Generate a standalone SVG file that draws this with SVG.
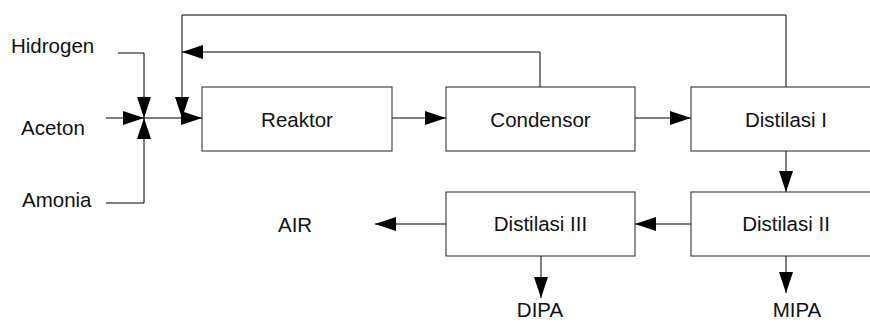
<svg xmlns="http://www.w3.org/2000/svg" width="870" height="322" viewBox="0 0 870 322">
<style>
.box{fill:#fff;stroke:#222;stroke-width:1}
.c{fill:none;stroke:#000;stroke-width:1}
text{font-family:"Liberation Sans",Arial,sans-serif;font-size:20.5px;fill:#111}
.m{text-anchor:middle}
</style>
<defs>
<marker id="ah" markerUnits="userSpaceOnUse" markerWidth="22" markerHeight="14" refX="21" refY="7" orient="auto">
<path d="M0,0 L21,7 L0,14 z" fill="#000"/>
</marker>
</defs>
<rect width="870" height="322" fill="#fff"/>
<g id="connectors">
<path class="c" d="M118,53 H144 V118" marker-end="url(#ah)"/>
<path class="c" d="M106,118 H144" marker-end="url(#ah)"/>
<path class="c" d="M106,203 H144 V118" marker-end="url(#ah)"/>
<path class="c" d="M144,118 H202" marker-end="url(#ah)"/>
<path class="c" d="M786,87 V15 H182 V118" marker-end="url(#ah)"/>
<path class="c" d="M540,87 V52 H182" marker-end="url(#ah)"/>
<path class="c" d="M392,118 H446" marker-end="url(#ah)"/>
<path class="c" d="M635,118 H691" marker-end="url(#ah)"/>
<path class="c" d="M786,151 V192" marker-end="url(#ah)"/>
<path class="c" d="M691,224 H635" marker-end="url(#ah)"/>
<path class="c" d="M446,224 H375" marker-end="url(#ah)"/>
<path class="c" d="M541,256 V298" marker-end="url(#ah)"/>
<path class="c" d="M786,256 V293" marker-end="url(#ah)"/>
</g>
<g id="reaktor"><rect class="box" x="202" y="87" width="190" height="64"/><text class="m" x="297" y="126.5">Reaktor</text></g>
<g id="condensor"><rect class="box" x="446" y="87" width="189" height="64"/><text class="m" x="540.5" y="126.5">Condensor</text></g>
<g id="distilasi1"><rect class="box" x="691" y="87" width="190" height="64"/><text class="m" x="786" y="126.5">Distilasi I</text></g>
<g id="distilasi2"><rect class="box" x="691" y="192" width="190" height="64"/><text class="m" x="786" y="231">Distilasi II</text></g>
<g id="distilasi3"><rect class="box" x="446" y="192" width="189" height="64"/><text class="m" x="540.5" y="231">Distilasi III</text></g>
<g id="hidrogen"><text x="11" y="53">Hidrogen</text></g>
<g id="aceton"><text x="21" y="135">Aceton</text></g>
<g id="amonia"><text x="22" y="207">Amonia</text></g>
<g id="air"><text x="278" y="232">AIR</text></g>
<g id="dipa"><text class="m" x="540" y="317">DIPA</text></g>
<g id="mipa"><text class="m" x="797" y="317">MIPA</text></g>
</svg>
